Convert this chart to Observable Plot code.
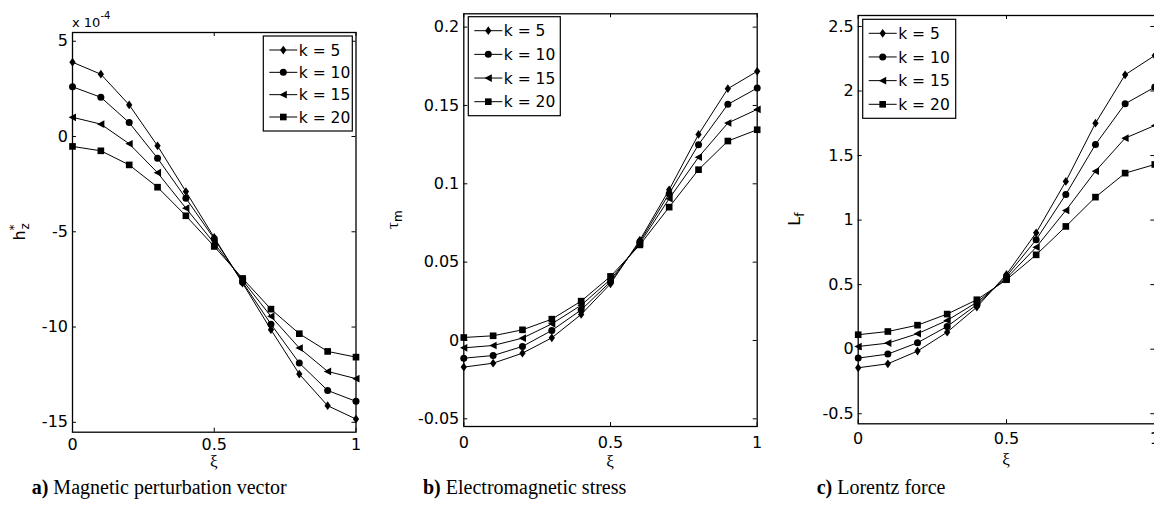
<!DOCTYPE html>
<html>
<head>
<meta charset="utf-8">
<script src="https://cdn.jsdelivr.net/npm/d3@7"></script>
<script src="https://cdn.jsdelivr.net/npm/@observablehq/plot@0.6"></script>
<style>
  html, body { margin: 0; padding: 0; background: #fff; overflow: hidden; }
  #fig { position: relative; width: 1154px; height: 508px; overflow: hidden; background: #fff; }
  #fig svg.panel { position: absolute; top: 0; }
  #fig svg.captions { position: absolute; left: 0; top: 0; pointer-events: none; }
</style>
</head>
<body>
<div id="fig"></div>
<script>
// Dimensionless coordinate ξ sampled at 11 stations
const xi = [0, 0.1, 0.2, 0.3, 0.4, 0.5, 0.6, 0.7, 0.8, 0.9, 1.0];
const kLabels = ["k = 5", "k = 10", "k = 15", "k = 20"];
const xTicks = [0, 0.5, 1];

// (a) magnetic perturbation vector h*_z, in units of 1e-4
const hzK5  = [3.90, 3.27, 1.66, -0.49, -2.89, -5.30, -7.70, -10.14, -12.47, -14.13, -14.83];
const hzK10 = [2.61, 2.06, 0.73, -1.14, -3.24, -5.37, -7.65, -9.85, -11.89, -13.33, -13.90];
const hzK15 = [1.01, 0.65, -0.38, -1.90, -3.76, -5.60, -7.55, -9.44, -11.10, -12.33, -12.71];
const hzK20 = [-0.52, -0.75, -1.49, -2.66, -4.16, -5.77, -7.45, -9.06, -10.35, -11.28, -11.58];
const hzTicks = [-15, -10, -5, 0, 5];

// (b) electromagnetic stress τ_m
const tauK5  = [-0.0170, -0.0145, -0.0081, 0.0017, 0.0166, 0.0362, 0.0640, 0.0962, 0.1315, 0.1607, 0.1718];
const tauK10 = [-0.0113, -0.0096, -0.0038, 0.0064, 0.0195, 0.0375, 0.0630, 0.0937, 0.1250, 0.1507, 0.1611];
const tauK15 = [-0.0047, -0.0032, 0.0015, 0.0106, 0.0225, 0.0390, 0.0620, 0.0905, 0.1170, 0.1388, 0.1475];
const tauK20 = [0.0019, 0.0030, 0.0068, 0.0136, 0.0251, 0.0409, 0.0610, 0.0851, 0.1090, 0.1273, 0.1345];
const tauTicks = [-0.05, 0, 0.05, 0.1, 0.15, 0.2];

// (c) Lorentz force L_f
const lfK5  = [-0.144, -0.113, -0.015, 0.132, 0.326, 0.579, 0.902, 1.300, 1.751, 2.126, 2.275];
const lfK10 = [-0.069, -0.038, 0.050, 0.176, 0.345, 0.565, 0.848, 1.199, 1.586, 1.901, 2.030];
const lfK15 = [0.021, 0.047, 0.120, 0.223, 0.363, 0.550, 0.790, 1.075, 1.379, 1.635, 1.733];
const lfK20 = [0.112, 0.137, 0.186, 0.272, 0.383, 0.538, 0.731, 0.951, 1.178, 1.364, 1.431];
const lfTicks = [-0.5, 0, 0.5, 1, 1.5, 2, 2.5];

const captionTags = ["a)", "b)", "c)"];
const captionTexts = [" Magnetic perturbation vector", " Electromagnetic stress", " Lorentz force"];

const SANS = '"DejaVu Sans", "Liberation Sans", Arial, sans-serif';
const SERIF = '"Liberation Serif", "Times New Roman", serif';
const H = 470;      // height of each panel's svg
const TICK = 4;     // inward tick length
const FS = 15.5;    // legend font size
const TFS = 16;     // tick label font size

// MATLAB-style markers: diamond, circle, left triangle, square
const markers = [
  { draw(c, s) { const r = Math.sqrt(s / Math.PI); c.moveTo(0, -1.25 * r); c.lineTo(0.9 * r, 0); c.lineTo(0, 1.25 * r); c.lineTo(-0.9 * r, 0); c.closePath(); } },
  { draw(c, s) { const r = Math.sqrt(s / Math.PI); c.moveTo(r, 0); c.arc(0, 0, r, 0, 2 * Math.PI); } },
  { draw(c, s) { const r = Math.sqrt(s / Math.PI); c.moveTo(-1.1 * r, 0); c.lineTo(r, -1.1 * r); c.lineTo(r, 1.1 * r); c.closePath(); } },
  { draw(c, s) { const r = Math.sqrt(s / Math.PI) * 0.95; c.moveTo(-r, -r); c.lineTo(r, -r); c.lineTo(r, r); c.lineTo(-r, r); c.closePath(); } }
];
const MARKER_R = 3.5;

const panels = [
  { left: 0, width: 380, ml: 72, mr: 24.5, mt: 32, mb: 38.3,
    yDomain: [-15.52, 5.46], yTicks: hzTicks, series: [hzK5, hzK10, hzK15, hzK20],
    xPad: 6, legend: { x: 263.3, y: 36, w: 89, h: 95 }, ylabX: 25, xiBase: 467, ylabel: "hz" },
  { left: 380, width: 390, ml: 83.3, mr: 13.3, mt: 13.3, mb: 44,
    yDomain: [-0.0549, 0.2085], yTicks: tauTicks, series: [tauK5, tauK10, tauK15, tauK20],
    xPad: 10, legend: { x: 88.3, y: 16.7, w: 92, h: 99 }, ylabX: 18, xiBase: 467, ylabel: "tau" },
  { left: 770, width: 385, ml: 87.7, mr: 0.7, mt: 15, mb: 46.7,
    yDomain: [-0.578, 2.585], yTicks: lfTicks, series: [lfK5, lfK10, lfK15, lfK20],
    xPad: 9, legend: { x: 92.7, y: 19.3, w: 93, h: 99 }, ylabX: 30, xiBase: 465, ylabel: "lf" }
];

const fig = document.getElementById("fig");

panels.forEach((p) => {
  const innerW = p.width - p.ml - p.mr;
  const innerH = H - p.mt - p.mb;
  const fmt = (d) => String(d);
  const marks = [
    // inward ticks on all four sides of the box
    Plot.ruleX(xTicks, { x: (d) => d, insetTop: innerH - TICK, stroke: "black", strokeWidth: 1 }),
    Plot.ruleX(xTicks, { x: (d) => d, insetBottom: innerH - TICK, stroke: "black", strokeWidth: 1 }),
    Plot.ruleY(p.yTicks, { y: (d) => d, insetRight: innerW - TICK, stroke: "black", strokeWidth: 1 }),
    Plot.ruleY(p.yTicks, { y: (d) => d, insetLeft: innerW - TICK, stroke: "black", strokeWidth: 1 }),
    // tick labels, placed on the x and y scales
    Plot.text(xTicks, { x: (d) => d, text: fmt, frameAnchor: "bottom", lineAnchor: "top", dy: p.xPad,
      fontSize: TFS, fontFamily: SANS, fill: "black" }),
    Plot.text(p.yTicks, { y: (d) => d, text: fmt, frameAnchor: "left", textAnchor: "end", dx: -4.5,
      fontSize: TFS, fontFamily: SANS, fill: "black" })
  ];
  p.series.forEach((ys, i) => {
    const rows = xi.map((x, j) => ({ x, y: ys[j], k: kLabels[i] }));
    marks.push(Plot.line(rows, { x: "x", y: "y", stroke: "black", strokeWidth: 1 }));
    marks.push(Plot.dot(rows, { x: "x", y: "y", symbol: markers[i], r: MARKER_R, fill: "black", stroke: "none" }));
  });
  marks.push(Plot.frame({ stroke: "black", strokeWidth: 1.3 }));

  const svg = Plot.plot({
    width: p.width, height: H,
    marginLeft: p.ml, marginRight: p.mr, marginTop: p.mt, marginBottom: p.mb,
    x: { domain: [0, 1], axis: null },
    y: { domain: p.yDomain, axis: null },
    style: { fontFamily: SANS, fontSize: "16px", color: "black", background: "transparent", overflow: "visible" },
    marks
  });
  svg.setAttribute("class", "panel");
  svg.style.left = p.left + "px";
  fig.appendChild(svg);

  const s = d3.select(svg);

  // legend
  const lg = s.append("g").attr("transform", `translate(${p.legend.x},${p.legend.y})`);
  lg.append("rect").attr("width", p.legend.w).attr("height", p.legend.h)
    .attr("fill", "white").attr("stroke", "black").attr("stroke-width", 1.2);
  const rowGap = (p.legend.h - 28) / 3;
  kLabels.forEach((lab, i) => {
    const ry = 14 + i * rowGap;
    lg.append("line").attr("x1", 6).attr("x2", 34).attr("y1", ry).attr("y2", ry)
      .attr("stroke", "black").attr("stroke-width", 1);
    lg.append("path").attr("transform", `translate(20,${ry})`)
      .attr("d", d3.symbol().type(markers[i]).size(MARKER_R * MARKER_R * Math.PI)())
      .attr("fill", "black");
    lg.append("text").attr("x", 35.5).attr("y", ry).attr("dy", "0.36em").attr("text-anchor", "start")
      .attr("font-family", SANS).attr("font-size", FS).attr("fill", "black").text(lab);
  });

  // x-axis label ξ
  s.append("text").attr("x", p.ml + innerW / 2).attr("y", p.xiBase)
    .attr("text-anchor", "middle").attr("font-family", SERIF).attr("font-size", 17)
    .attr("fill", "black").text("ξ");

  // y-axis label
  const cy = p.mt + innerH / 2;
  const yl = s.append("text").attr("transform", `translate(${p.ylabX},${cy}) rotate(-90)`)
    .attr("text-anchor", "middle").attr("font-family", SANS).attr("font-size", 16).attr("fill", "black");
  if (p.ylabel === "hz") {
    yl.append("tspan").text("h");
    yl.append("tspan").attr("font-size", 12).attr("dy", -7).text("*");
    yl.append("tspan").attr("font-size", 12).attr("dx", -5).attr("dy", 11).text("z");
    // exponent multiplier above the axis
    const ex = s.append("text").attr("x", p.ml).attr("y", 27.3).attr("text-anchor", "start")
      .attr("font-family", SANS).attr("font-size", 13).attr("fill", "black");
    ex.append("tspan").text("x 10");
    ex.append("tspan").attr("font-size", 10).attr("dy", -8).text("-4");
  } else if (p.ylabel === "tau") {
    yl.append("tspan").attr("font-family", SERIF).attr("font-size", 17).text("τ");
    yl.append("tspan").attr("font-size", 12).attr("dy", 4).text("m");
  } else {
    yl.append("tspan").text("L");
    yl.append("tspan").attr("font-size", 12).attr("dy", 4).text("f");
  }
});

// panel captions below the charts
const cap = d3.select(fig).append("svg").attr("class", "captions")
  .attr("width", 1154).attr("height", 508);
const capX = [31.7, 423, 816.7];
captionTags.forEach((tag, i) => {
  const t = cap.append("text").attr("x", capX[i]).attr("y", 494).attr("text-anchor", "start")
    .attr("font-family", SERIF).attr("font-size", 20).attr("fill", "black");
  t.append("tspan").attr("font-weight", "bold").text(tag);
  t.append("tspan").text(captionTexts[i]);
});
</script>
</body>
</html>
